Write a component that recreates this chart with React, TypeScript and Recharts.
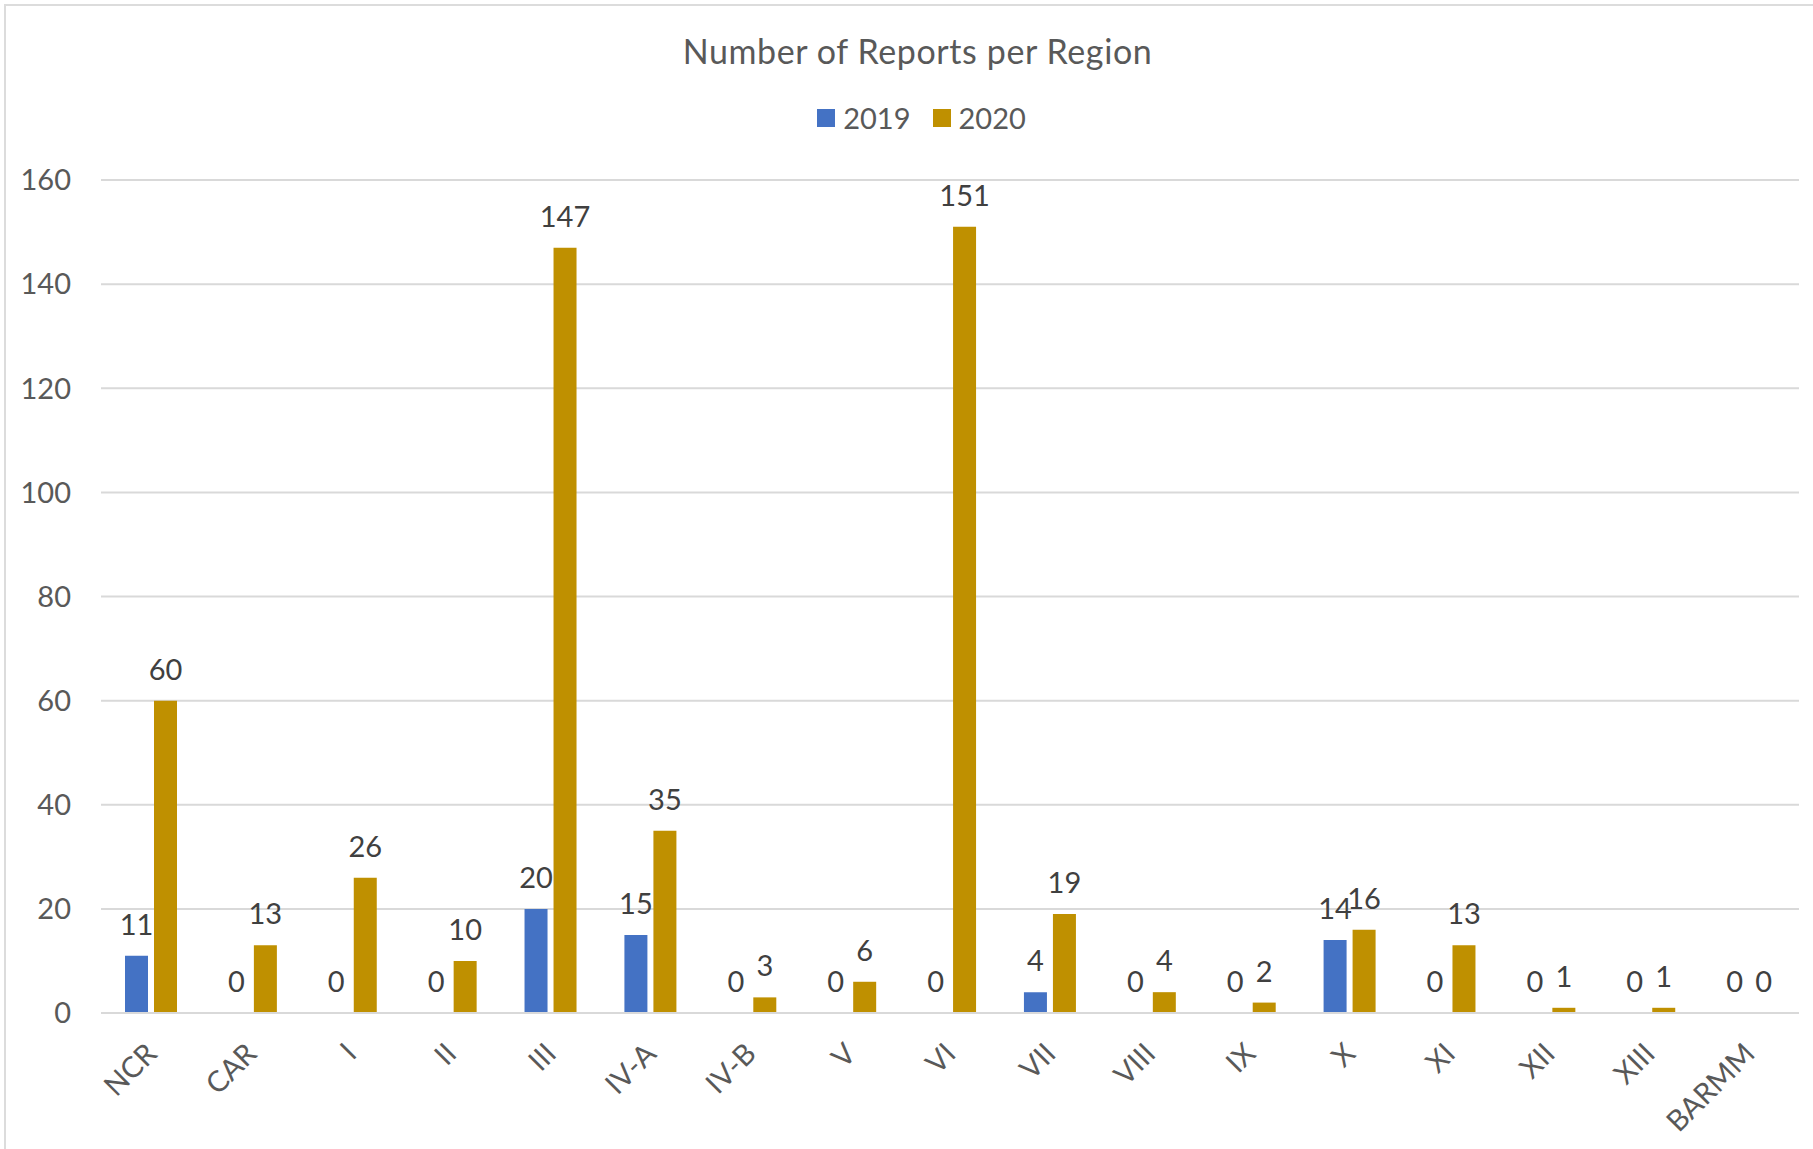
import { BarChart, Bar, XAxis, YAxis, CartesianGrid, Legend, LabelList } from "recharts";

const regions = ["NCR", "CAR", "I", "II", "III", "IV-A", "IV-B", "V", "VI", "VII", "VIII", "IX", "X", "XI", "XII", "XIII", "BARMM"];
const reports2019 = [11, 0, 0, 0, 20, 15, 0, 0, 0, 4, 0, 0, 14, 0, 0, 0, 0];
const reports2020 = [60, 13, 26, 10, 147, 35, 3, 6, 151, 19, 4, 2, 16, 13, 1, 1, 0];
const yTicks = [0, 20, 40, 60, 80, 100, 120, 140, 160];

const series = [
  { key: "2019", color: "#4472C4" },
  { key: "2020", color: "#BF9000" },
];

const data = regions.map((region, i) => ({
  region,
  "2019": reports2019[i],
  "2020": reports2020[i],
}));

const FONT = "Lato, 'Open Sans', sans-serif";
const W = 1813;
const H = 1149;

// value label above each bar, zeros included
function renderValue(props: any) {
  const { x, y, width, value } = props;
  return (
    <text
      x={Number(x) + Number(width) / 2}
      y={Number(y) - 21}
      textAnchor="middle"
      fill="#404040"
      fontSize={29}
      fontFamily={FONT}
    >
      {String(value)}
    </text>
  );
}

// zero-value bars get a hairline height so their "0" label is still placed
const zeroHairline = (value: any) => (Number(value) === 0 ? 0.01 : 0);

function renderLegend() {
  return (
    <div style={{ display: "flex", justifyContent: "center", paddingLeft: 30, fontFamily: FONT, fontSize: 29, color: "#595959" }}>
      {series.map((s) => (
        <div key={s.key} style={{ display: "flex", alignItems: "center", margin: "0 11px" }}>
          <span style={{ width: 18, height: 18, background: s.color, marginRight: 8, display: "inline-block" }} />
          <span>{s.key}</span>
        </div>
      ))}
    </div>
  );
}

export default function App() {
  return (
    <div style={{ position: "absolute", left: 0, top: 0, width: W, height: H, overflow: "hidden", background: "#fff" }}>
      <div
        style={{
          position: "absolute",
          left: 4,
          top: 4,
          width: W + 100,
          height: H + 100,
          borderLeft: "2px solid #dcdcdc",
          borderTop: "2px solid #dcdcdc",
        }}
      />
      <div
        style={{
          position: "absolute",
          left: 11,
          width: W,
          top: 30,
          textAlign: "center",
          fontFamily: FONT,
          fontSize: 34,
          letterSpacing: 0.6,
          lineHeight: "42px",
          color: "#595959",
        }}
      >
        Number of Reports per Region
      </div>
      <BarChart
        width={W}
        height={H}
        data={data}
        margin={{ top: 180, right: 14, bottom: 0, left: 0 }}
        barSize={23}
        barGap={6}
        style={{ position: "absolute", left: 0, top: 0 }}
      >
        <CartesianGrid vertical={false} stroke="#d9d9d9" strokeWidth={2} />
        <XAxis
          dataKey="region"
          height={136}
          tickSize={0}
          tickMargin={28}
          interval={0}
          angle={-45}
          textAnchor="end"
          dx={-7}
          axisLine={{ stroke: "#d9d9d9", strokeWidth: 2 }}
          tick={{ fill: "#595959", fontSize: 29, fontFamily: FONT }}
        />
        <YAxis
          width={101}
          domain={[0, 160]}
          ticks={yTicks}
          tickSize={0}
          tickMargin={30}
          axisLine={false}
          tick={{ fill: "#595959", fontSize: 29, fontFamily: FONT }}
        />
        <Legend
          verticalAlign="middle"
          align="center"
          layout="horizontal"
          content={renderLegend}
          wrapperStyle={{ top: 100, left: 0, width: W }}
        />
        {series.map((s) => (
          <Bar key={s.key} dataKey={s.key} fill={s.color} minPointSize={zeroHairline} isAnimationActive={false}>
            <LabelList dataKey={s.key} content={renderValue} />
          </Bar>
        ))}
      </BarChart>
    </div>
  );
}
